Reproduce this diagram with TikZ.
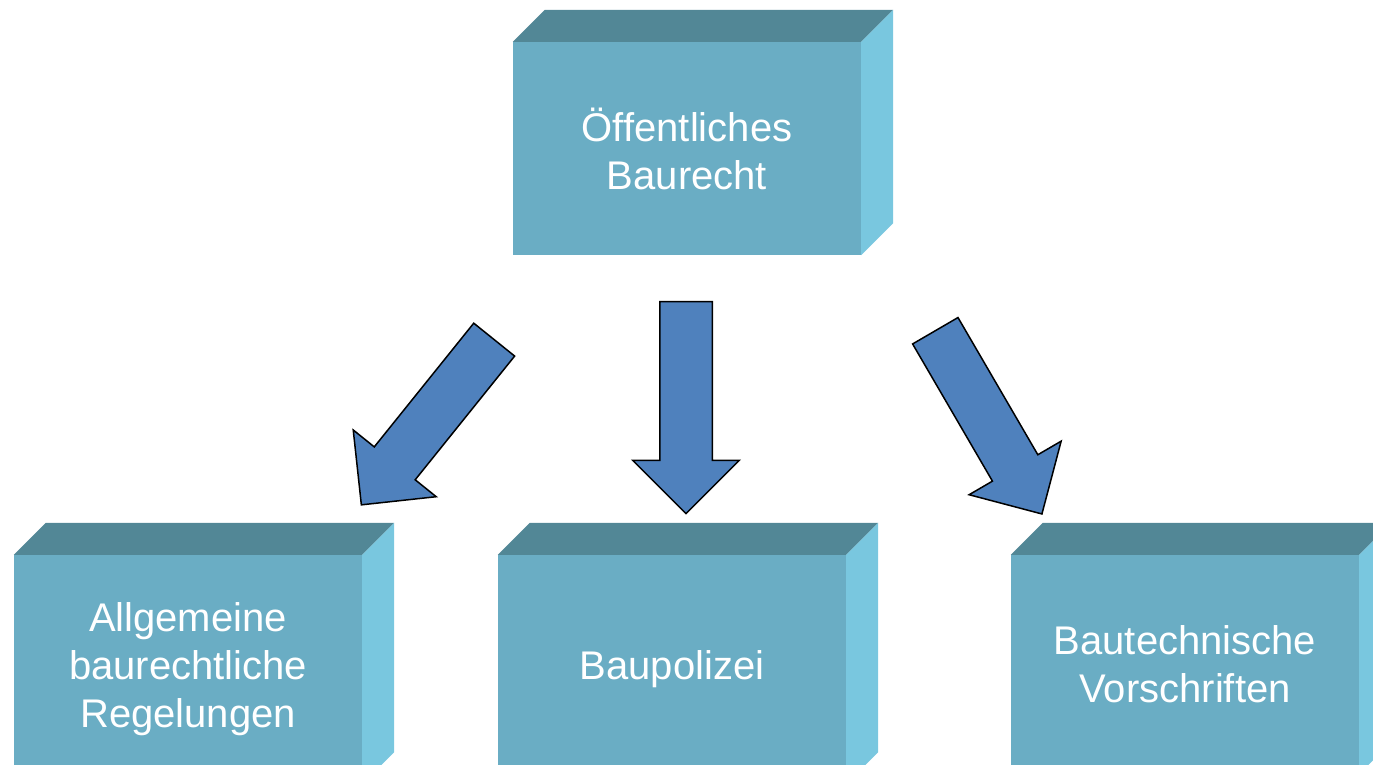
\documentclass[tikz,border=0pt]{standalone}
\usepackage{fontspec}
\setmainfont{Liberation Sans}
\usetikzlibrary{shapes.arrows}
\definecolor{face}{HTML}{6AADC4}
\definecolor{dessus}{HTML}{528796}
\definecolor{cote}{HTML}{79C7DF}
\definecolor{bleu}{HTML}{4F81BD}
\begin{document}
\begin{tikzpicture}[x=1pt,y=-1pt]
\tikzset{bloc/.style={fill=face, minimum width=348pt, minimum height=213pt, inner sep=0pt, text=white, align=center, font=\fontsize{40}{48}\selectfont}}
\tikzset{fleche/.style={single arrow, draw=black, fill=bleu, line width=1.5pt, minimum height=212pt, inner xsep=0pt, inner ysep=25.5pt, single arrow head extend=27pt}}
\useasboundingbox (0,0) rectangle (1373,764);
\clip (0,0) rectangle (1373,764);
\node[bloc] (B0) at (687,148.5) {Öffentliches\\Baurecht};
\node[bloc, minimum height=229pt] (B1) at (188,669.5) {Allgemeine\\baurechtliche\\Regelungen};
\node[bloc, minimum height=229pt] (B2) at (672,669.5) {Baupolizei};
\node[bloc, minimum height=219pt] (B3) at (1185,664.5) {Bautechnische\\Vorschriften};
\foreach \b in {B0,B1,B2,B3} {
  \fill[dessus] (\b.north west) -- ([shift={(32,-32)}]\b.north west) -- ([shift={(32,-32)}]\b.north east) -- (\b.north east) -- cycle;
  \fill[cote] (\b.north east) -- ([shift={(32,-32)}]\b.north east) -- ([shift={(32,-32)}]\b.south east) -- (\b.south east) -- cycle;
}
\node[fleche, rotate=231.2] (F1) at (436,412) {};
\node[fleche, rotate=-90] (F2) at (686,394.5) {};
\node[fleche, rotate=-59.8] (F3) at (982,411) {};
\end{tikzpicture}
\end{document}
